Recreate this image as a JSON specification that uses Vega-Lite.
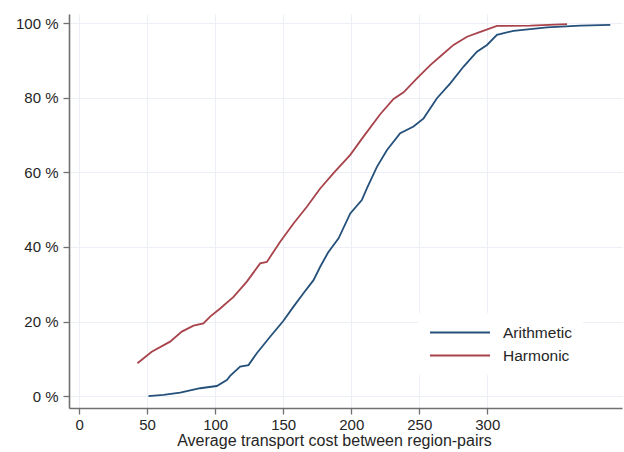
{
  "$schema": "https://vega.github.io/schema/vega-lite/v6.json",
  "width": 553,
  "height": 394,
  "autosize": {"type": "none"},
  "padding": {"left": 69, "top": 14, "right": 2, "bottom": 44},
  "background": "white",
  "config": {
    "font": "Liberation Sans",
    "view": {"stroke": null},
    "axis": {
      "domainColor": "#707070",
      "domainWidth": 1.6,
      "tickColor": "#707070",
      "tickWidth": 1.3,
      "tickSize": 6,
      "gridColor": "#eceff5",
      "gridWidth": 1,
      "labelFont": "Liberation Sans",
      "labelFontSize": 15,
      "labelColor": "#262626",
      "titleFont": "Liberation Sans",
      "titleFontSize": 16,
      "titleFontWeight": "normal",
      "titleColor": "#262626"
    }
  },
  "data": {
    "values": [
      {"series": "Harmonic", "cost": 42.9, "share": 0.088},
      {"series": "Harmonic", "cost": 53.4, "share": 0.119},
      {"series": "Harmonic", "cost": 66.9, "share": 0.146},
      {"series": "Harmonic", "cost": 75.5, "share": 0.173},
      {"series": "Harmonic", "cost": 84.1, "share": 0.189},
      {"series": "Harmonic", "cost": 91.4, "share": 0.195},
      {"series": "Harmonic", "cost": 96.3, "share": 0.213},
      {"series": "Harmonic", "cost": 103.7, "share": 0.235},
      {"series": "Harmonic", "cost": 113.5, "share": 0.266},
      {"series": "Harmonic", "cost": 123.3, "share": 0.307},
      {"series": "Harmonic", "cost": 133.1, "share": 0.356},
      {"series": "Harmonic", "cost": 138.0, "share": 0.360},
      {"series": "Harmonic", "cost": 147.8, "share": 0.414},
      {"series": "Harmonic", "cost": 157.6, "share": 0.463},
      {"series": "Harmonic", "cost": 167.4, "share": 0.508},
      {"series": "Harmonic", "cost": 177.2, "share": 0.557},
      {"series": "Harmonic", "cost": 187.0, "share": 0.598},
      {"series": "Harmonic", "cost": 199.3, "share": 0.647},
      {"series": "Harmonic", "cost": 209.0, "share": 0.696},
      {"series": "Harmonic", "cost": 221.3, "share": 0.756},
      {"series": "Harmonic", "cost": 231.1, "share": 0.797},
      {"series": "Harmonic", "cost": 238.5, "share": 0.815},
      {"series": "Harmonic", "cost": 248.3, "share": 0.852},
      {"series": "Harmonic", "cost": 258.1, "share": 0.888},
      {"series": "Harmonic", "cost": 267.9, "share": 0.919},
      {"series": "Harmonic", "cost": 275.2, "share": 0.942},
      {"series": "Harmonic", "cost": 285.1, "share": 0.964},
      {"series": "Harmonic", "cost": 294.9, "share": 0.977},
      {"series": "Harmonic", "cost": 307.1, "share": 0.993},
      {"series": "Harmonic", "cost": 331.6, "share": 0.994},
      {"series": "Harmonic", "cost": 358.6, "share": 0.998},
      {"series": "Arithmetic", "cost": 51.0, "share": 0.000},
      {"series": "Arithmetic", "cost": 62.0, "share": 0.003},
      {"series": "Arithmetic", "cost": 74.3, "share": 0.009},
      {"series": "Arithmetic", "cost": 89.0, "share": 0.021},
      {"series": "Arithmetic", "cost": 101.2, "share": 0.027},
      {"series": "Arithmetic", "cost": 108.6, "share": 0.043},
      {"series": "Arithmetic", "cost": 111.0, "share": 0.054},
      {"series": "Arithmetic", "cost": 118.4, "share": 0.079},
      {"series": "Arithmetic", "cost": 124.5, "share": 0.083},
      {"series": "Arithmetic", "cost": 130.6, "share": 0.115},
      {"series": "Arithmetic", "cost": 140.4, "share": 0.159},
      {"series": "Arithmetic", "cost": 150.2, "share": 0.202},
      {"series": "Arithmetic", "cost": 157.6, "share": 0.240},
      {"series": "Arithmetic", "cost": 164.9, "share": 0.276},
      {"series": "Arithmetic", "cost": 172.3, "share": 0.311},
      {"series": "Arithmetic", "cost": 177.2, "share": 0.347},
      {"series": "Arithmetic", "cost": 183.0, "share": 0.385},
      {"series": "Arithmetic", "cost": 190.7, "share": 0.423},
      {"series": "Arithmetic", "cost": 199.3, "share": 0.490},
      {"series": "Arithmetic", "cost": 207.8, "share": 0.526},
      {"series": "Arithmetic", "cost": 211.5, "share": 0.557},
      {"series": "Arithmetic", "cost": 218.9, "share": 0.615},
      {"series": "Arithmetic", "cost": 226.3, "share": 0.660},
      {"series": "Arithmetic", "cost": 236.0, "share": 0.705},
      {"series": "Arithmetic", "cost": 245.8, "share": 0.723},
      {"series": "Arithmetic", "cost": 253.2, "share": 0.745},
      {"series": "Arithmetic", "cost": 263.0, "share": 0.799},
      {"series": "Arithmetic", "cost": 272.8, "share": 0.839},
      {"series": "Arithmetic", "cost": 282.6, "share": 0.884},
      {"series": "Arithmetic", "cost": 292.4, "share": 0.924},
      {"series": "Arithmetic", "cost": 299.8, "share": 0.942},
      {"series": "Arithmetic", "cost": 307.1, "share": 0.969},
      {"series": "Arithmetic", "cost": 319.3, "share": 0.980},
      {"series": "Arithmetic", "cost": 343.9, "share": 0.989},
      {"series": "Arithmetic", "cost": 368.4, "share": 0.994},
      {"series": "Arithmetic", "cost": 390.4, "share": 0.996}
    ]
  },
  "mark": {"type": "line", "strokeWidth": 1.8, "clip": true},
  "encoding": {
    "x": {
      "field": "cost",
      "type": "quantitative",
      "scale": {"domain": [-7.4, 399], "nice": false, "zero": false},
      "axis": {
        "values": [0, 50, 100, 150, 200, 250, 300],
        "title": "Average transport cost between region-pairs",
        "labelPadding": 3,
        "titlePadding": 0,
        "titleX": 265,
        "titleAlign": "center"
      }
    },
    "y": {
      "field": "share",
      "type": "quantitative",
      "scale": {"domain": [-0.032, 1.025], "nice": false, "zero": false},
      "axis": {
        "values": [0, 0.2, 0.4, 0.6, 0.8, 1],
        "labelExpr": "format(datum.value * 100, 'd') + ' %'",
        "title": null,
        "labelPadding": 5
      }
    },
    "color": {
      "field": "series",
      "type": "nominal",
      "scale": {"domain": ["Arithmetic", "Harmonic"], "range": ["#24507a", "#a8434b"]},
      "legend": {
        "title": null,
        "orient": "none",
        "legendX": 349,
        "legendY": 299,
        "fillColor": "white",
        "padding": 11,
        "symbolType": "M-1,0H7",
        "symbolSize": 225,
        "symbolStrokeWidth": 1.8,
        "labelOffset": 57,
        "labelFontSize": 15.5,
        "labelColor": "#262626",
        "rowPadding": 6
      }
    }
  }
}
